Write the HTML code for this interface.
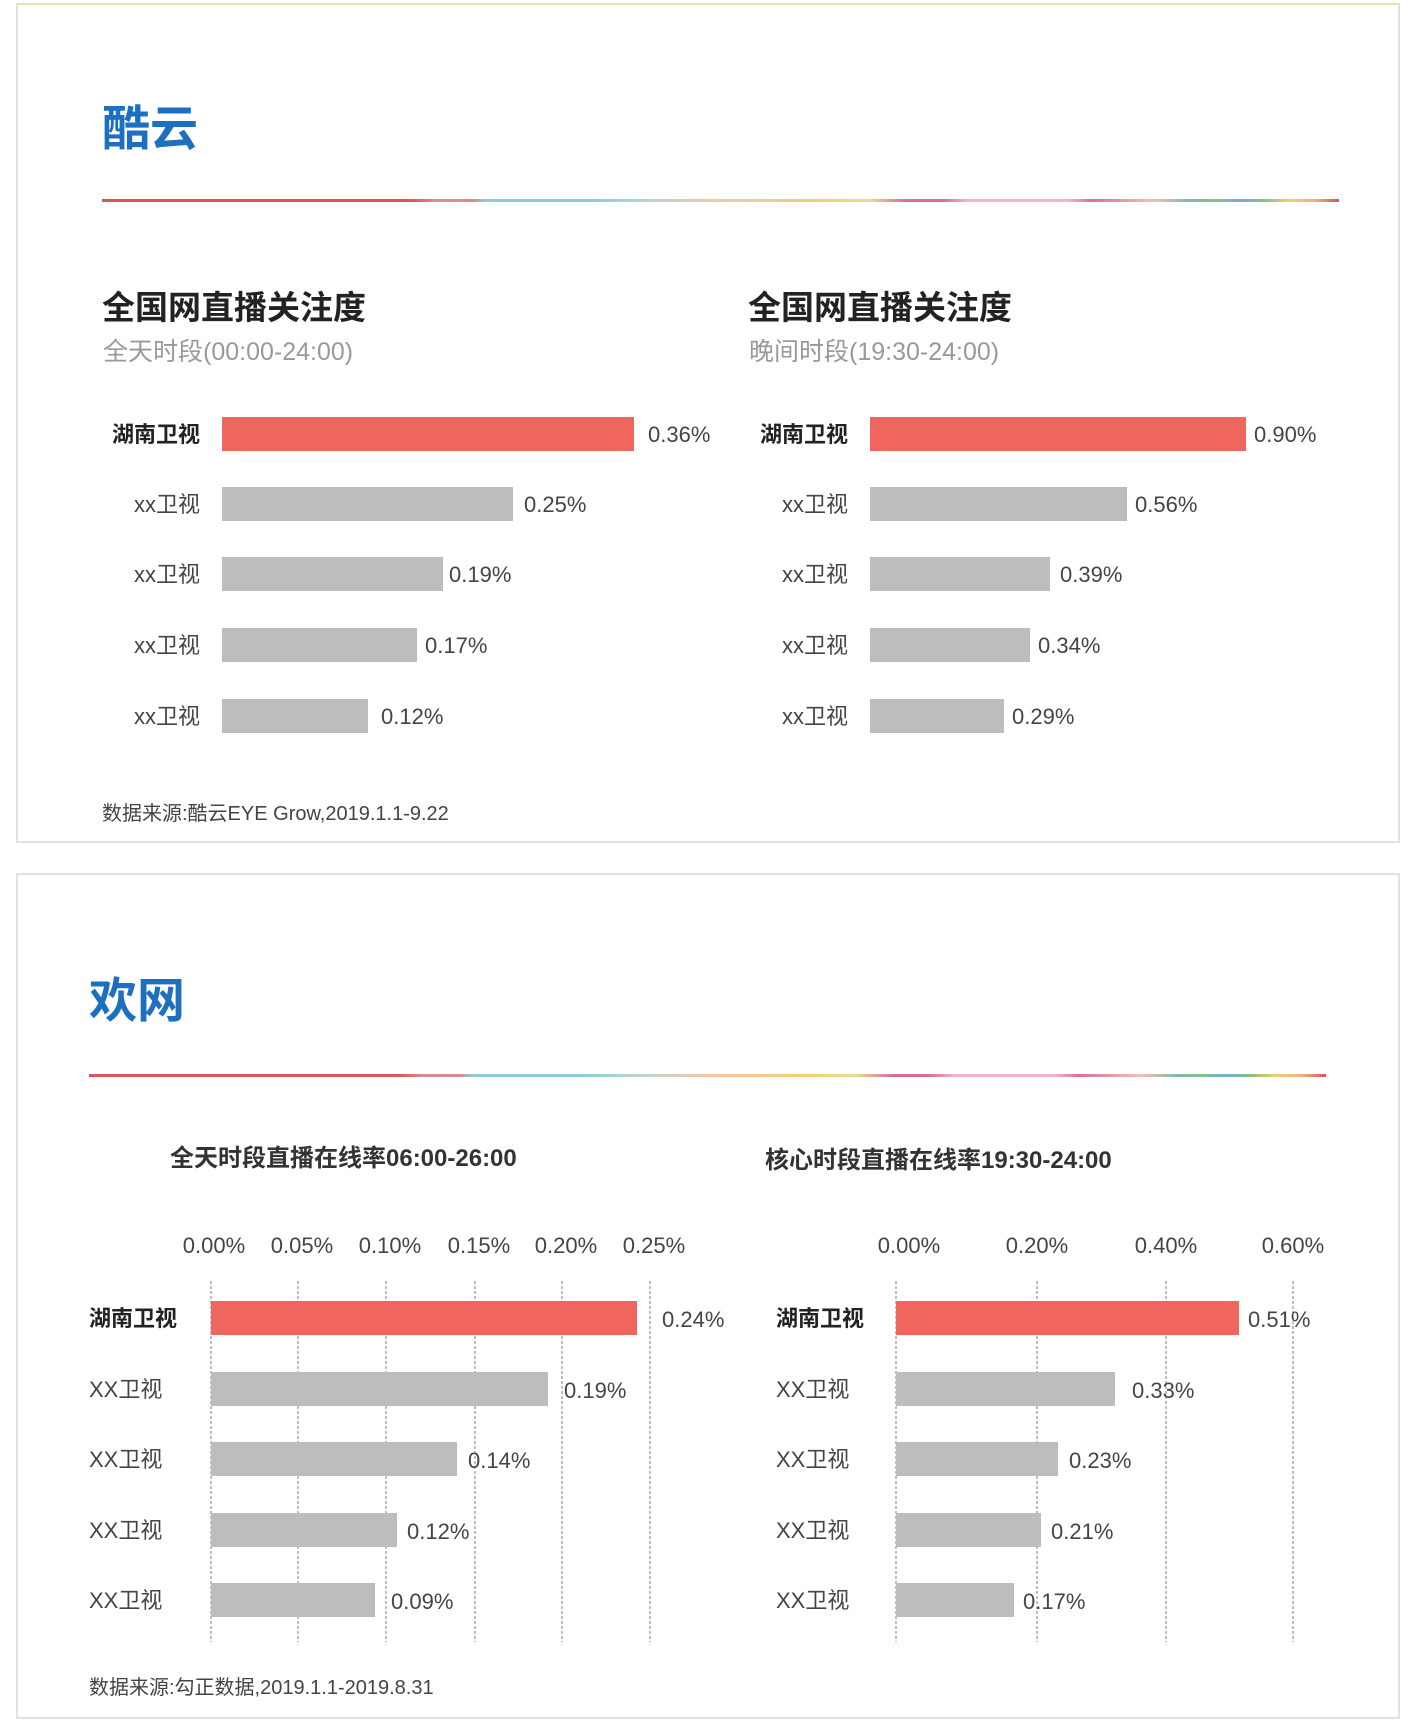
<!DOCTYPE html>
<html><head><meta charset="utf-8"><style>
body{margin:0;background:#fff;width:1414px;height:1730px;overflow:hidden;font-family:"Liberation Sans","Noto Sans CJK SC",sans-serif;}
.panel{position:absolute;border:2px solid #e2e2e2;box-sizing:border-box;}
.line{position:absolute;height:3px;background:linear-gradient(90deg,#d9565c 0%,#d9565c 25%,#e08a8e 27%,#d98a8e 30%,#8ecbe0 31%,#8ecbe0 40%,#b8d6cc 44%,#f3c6a8 50%,#f0d070 58%,#e9dc90 62%,#d96e95 65%,#d96e95 68%,#f2b6cc 70%,#f2b6cc 78%,#d96e9a 80%,#f3c0b0 85%,#7fb8a8 88%,#8cc088 90%,#6fb0d8 92%,#8ac080 94%,#f0d070 96%,#f0b080 98%,#d9565c 100%);}
</style></head><body>
<div class="panel" style="left:16px;top:3px;width:1384px;height:840px;border-top-color:#e8e2b0"></div>
<div class="panel" style="left:16px;top:873px;width:1384px;height:846px;"></div>
<div class="line" style="left:102px;top:199px;width:1237px"></div>
<div class="line" style="left:89px;top:1074px;width:1237px"></div>
<svg width="1414" height="1730" style="position:absolute;left:0;top:0" font-family="Liberation Sans, Noto Sans CJK SC, sans-serif">
<text x="102" y="145" font-size="48" font-weight="bold" fill="#1d6fbf">酷云</text>
<text x="89" y="1017" font-size="48" font-weight="bold" fill="#1d6fbf">欢网</text>
<g font-size="33" font-weight="bold" fill="#222">
<text x="102" y="319">全国网直播关注度</text><text x="748" y="319">全国网直播关注度</text></g>
<g font-size="25" fill="#999">
<text x="103" y="360">全天时段(00:00-24:00)</text><text x="749" y="360">晚间时段(19:30-24:00)</text></g>
<g fill="#bcbdbf">
<rect x="222" y="417" width="412" height="34" fill="#ef665e"/>
<rect x="222" y="487" width="291" height="34"/><rect x="222" y="557" width="221" height="34"/>
<rect x="222" y="628" width="195" height="34"/><rect x="222" y="699" width="146" height="34"/>
<rect x="870" y="417" width="376" height="34" fill="#ef665e"/>
<rect x="870" y="487" width="257" height="34"/><rect x="870" y="557" width="180" height="34"/>
<rect x="870" y="628" width="160" height="34"/><rect x="870" y="699" width="134" height="34"/>
</g>
<g font-size="22" fill="#444" text-anchor="end">
<text x="200" y="442" font-weight="bold" fill="#222">湖南卫视</text><text x="200" y="512">xx卫视</text><text x="200" y="582">xx卫视</text><text x="200" y="653">xx卫视</text><text x="200" y="724">xx卫视</text>
<text x="848" y="442" font-weight="bold" fill="#222">湖南卫视</text><text x="848" y="512">xx卫视</text><text x="848" y="582">xx卫视</text><text x="848" y="653">xx卫视</text><text x="848" y="724">xx卫视</text>
</g>
<g font-size="22" fill="#444">
<text x="648" y="442">0.36%</text><text x="524" y="512">0.25%</text><text x="449" y="582">0.19%</text><text x="425" y="653">0.17%</text><text x="381" y="724">0.12%</text>
<text x="1254" y="442">0.90%</text><text x="1135" y="512">0.56%</text><text x="1060" y="582">0.39%</text><text x="1038" y="653">0.34%</text><text x="1012" y="724">0.29%</text>
</g>
<text x="102" y="820" font-size="20" fill="#444">数据来源:酷云EYE Grow,2019.1.1-9.22</text>
<g font-size="24" font-weight="bold" fill="#333">
<text x="170" y="1166">全天时段直播在线率06:00-26:00</text><text x="765" y="1168">核心时段直播在线率19:30-24:00</text></g>
<g stroke="#aaa" stroke-width="1.5" stroke-dasharray="3,2">
<line x1="211" y1="1281" x2="211" y2="1642"/><line x1="298" y1="1281" x2="298" y2="1642"/><line x1="386" y1="1281" x2="386" y2="1642"/><line x1="475" y1="1281" x2="475" y2="1642"/><line x1="562" y1="1281" x2="562" y2="1642"/><line x1="650" y1="1281" x2="650" y2="1642"/>
<line x1="896" y1="1281" x2="896" y2="1642"/><line x1="1037" y1="1281" x2="1037" y2="1642"/><line x1="1166" y1="1281" x2="1166" y2="1642"/><line x1="1293" y1="1281" x2="1293" y2="1642"/>
</g>
<g font-size="22" fill="#444" text-anchor="middle">
<text x="214" y="1253">0.00%</text><text x="302" y="1253">0.05%</text><text x="390" y="1253">0.10%</text><text x="479" y="1253">0.15%</text><text x="566" y="1253">0.20%</text><text x="654" y="1253">0.25%</text>
<text x="909" y="1253">0.00%</text><text x="1037" y="1253">0.20%</text><text x="1166" y="1253">0.40%</text><text x="1293" y="1253">0.60%</text>
</g>
<g fill="#bcbdbf">
<rect x="211" y="1301" width="426" height="34" fill="#ef665e"/>
<rect x="211" y="1372" width="337" height="34"/><rect x="211" y="1442" width="246" height="34"/>
<rect x="211" y="1513" width="186" height="34"/><rect x="211" y="1583" width="164" height="34"/>
<rect x="896" y="1301" width="343" height="34" fill="#ef665e"/>
<rect x="896" y="1372" width="219" height="34"/><rect x="896" y="1442" width="162" height="34"/>
<rect x="896" y="1513" width="145" height="34"/><rect x="896" y="1583" width="118" height="34"/>
</g>
<g font-size="22" fill="#444">
<text x="89" y="1326" font-weight="bold" fill="#222">湖南卫视</text><text x="89" y="1397">XX卫视</text><text x="89" y="1467">XX卫视</text><text x="89" y="1538">XX卫视</text><text x="89" y="1608">XX卫视</text>
<text x="776" y="1326" font-weight="bold" fill="#222">湖南卫视</text><text x="776" y="1397">XX卫视</text><text x="776" y="1467">XX卫视</text><text x="776" y="1538">XX卫视</text><text x="776" y="1608">XX卫视</text>
</g>
<g font-size="22" fill="#444">
<text x="662" y="1327">0.24%</text><text x="564" y="1398">0.19%</text><text x="468" y="1468">0.14%</text><text x="407" y="1539">0.12%</text><text x="391" y="1609">0.09%</text>
<text x="1248" y="1327">0.51%</text><text x="1132" y="1398">0.33%</text><text x="1069" y="1468">0.23%</text><text x="1051" y="1539">0.21%</text><text x="1023" y="1609">0.17%</text>
</g>
<text x="89" y="1694" font-size="20" fill="#444">数据来源:勾正数据,2019.1.1-2019.8.31</text>
</svg>
</body></html>
